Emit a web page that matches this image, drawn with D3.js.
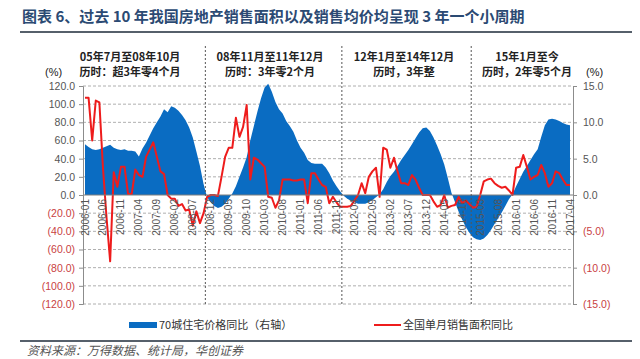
<!DOCTYPE html>
<html>
<head>
<meta charset="utf-8">
<script src="https://cdn.jsdelivr.net/npm/d3@7"></script>
<style>
  body { margin: 0; background: #fff; }
  text { font-family: "Liberation Sans", Arial, sans-serif; }
  .cn { font-family: "Noto Sans CJK SC", sans-serif; }
</style>
</head>
<body>
<script>
// month labels 2006-01 .. 2017-04
var months = [];
for (var yr = 2006; yr <= 2017; yr++) {
  for (var m = 1; m <= 12; m++) {
    if (yr == 2017 && m > 4) break;
    months.push(yr + "-" + (m < 10 ? "0" + m : m));
  }
}

// 70城住宅价格同比 (right axis, %)
var priceYoY = [
  7.0, 6.6, 6.3, 6.2, 6.3, 6.5, 6.7, 6.9, 6.5, 6.3, 6.2, 6.3,
  6.1, 6.1, 6.0, 5.3, 6.4, 7.2, 8.2, 9.2, 10.0, 10.8, 11.8, 11.4,
  12.2, 12.0, 11.6, 11.0, 10.3, 9.3, 7.9, 6.0, 4.0, 1.5, -0.3, -1.0,
  -1.5, -1.8, -1.6, -1.2, -0.5, 0.2, 1.2, 2.5, 3.8, 5.2, 7.5, 9.5,
  11.5, 13.3, 14.8, 15.3, 14.2, 12.8, 11.8, 11.2, 10.2, 9.5, 8.7, 7.5,
  6.5, 5.8, 4.8, 4.4, 4.3, 4.3, 4.3, 3.8, 3.0, 2.0, 1.2, 0.5,
  -0.1, -0.5, -0.8, -1.0, -1.2, -1.2, -1.2, -1.0, -0.7, -0.3, 0.1, 0.8,
  1.8, 2.6, 3.2, 4.0, 4.8, 5.5, 6.2, 7.0, 7.8, 8.6, 9.2, 9.3,
  8.8, 7.9, 6.8, 5.6, 4.2, 2.3, 0.3, -1.0, -2.3, -3.4, -4.4, -5.2,
  -5.8, -6.1, -6.2, -6.0, -5.5, -4.8, -4.0, -3.2, -2.4, -1.5, -0.6, 0.1,
  1.2, 2.2, 3.2, 4.0, 4.8, 5.6, 6.3, 8.0, 9.6, 10.4, 10.5, 10.4,
  10.2, 9.9, 9.7, 9.6
];

// 全国单月销售面积同比 (left axis, %)
var salesYoY = [
  107, 107, 60, 104, 102, 30, -25, -73, 25, 9, 31, 31,
  1, 1, 28, 22, 20, 42, 50, 58, 42, 26, 23, 0,
  -4, -4, -12, -10, -17, -16, -34, -18, -31, -20, -2, 0,
  0, -1, 20, 42, 52, 52, 85, 64, 75, 99, 17, 41,
  39, 35, 31, -2, -3, -14, -6, 17, 17, 17, 16, 16,
  17, 17, -9, 24, 24, 17, 11, 9, -9, -2, -8, -13,
  -13, -13, -12, -6, 0, 13, 2, 20, 26, 30, -2, 52,
  50, 30, 41, 26, 13, 13, 11, 22, 17, 8, 0, 0,
  0, -7, -13, -11, 0, -14, -12, -11, -2, -9, -6, -10,
  -14, -13, 0, 15, 17, 18, 13, 10, 8, 9, 5, 0,
  30, 31, 44, 31, 17, 20, 22, 33, 24, 9, 13, 26,
  24, 17, 11, 11
];

var leftTicks = [-120, -100, -80, -60, -40, -20, 0, 20, 40, 60, 80, 100, 120];
var rightTicks = [-15, -10, -5, 0, 5, 10, 15];
var periodBreaks = [33.5, 71.5, 107.5];
var periodLine1 = ["05年7月至08年10月", "08年11月至11年12月", "12年1月至14年12月", "15年1月至今"];
var periodLine2 = ["历时：超3年零4个月", "历时：3年零2个月", "历时，3年整", "历时，2年零5个月"];

(function() {
var W = 640, H = 359;
var plot = {left: 83, right: 573, top: 86, bottom: 304};

var svg = d3.select("body").append("svg")
    .attr("width", W)
    .attr("height", H);

var x = d3.scaleLinear().domain([0, months.length - 1]).range([85, 570]);
var yL = d3.scaleLinear().domain([-120, 120]).range([plot.bottom, plot.top]);
var yR = d3.scaleLinear().domain([-15, 15]).range([plot.bottom, plot.top]);

var fmt = function(v) {
  var s = Math.abs(v).toFixed(1);
  return v < 0 ? "(" + s + ")" : s;
};

// title
svg.append("text")
    .attr("class", "cn")
    .attr("x", 22).attr("y", 22)
    .style("font-size", "15px")
    .style("font-weight", "bold")
    .style("fill", "#2b4a73")
    .text("图表 6、过去 10 年我国房地产销售面积以及销售均价均呈现 3 年一个小周期");
svg.append("line")
    .attr("x1", 20).attr("x2", 632).attr("y1", 32).attr("y2", 32)
    .style("stroke", "#56606b").style("stroke-width", 2);

// grid
svg.append("g").selectAll("line")
    .data(leftTicks.filter(function(d) { return d != 0; }))
  .enter().append("line")
    .attr("x1", plot.left).attr("x2", plot.right)
    .attr("y1", function(d) { return yL(d); })
    .attr("y2", function(d) { return yL(d); })
    .style("stroke", "#9a9a9a")
    .style("stroke-dasharray", "3,2")
    .style("stroke-width", 0.8);

// blue area
var area = d3.area()
    .x(function(d, i) { return x(i); })
    .y0(yR(0))
    .y1(function(d) { return yR(d); });
svg.append("path")
    .datum(priceYoY)
    .attr("d", area)
    .style("fill", "#0a6cc2");

// red line
var line = d3.line()
    .x(function(d, i) { return x(i); })
    .y(function(d) { return yL(d); });
svg.append("path")
    .datum(salesYoY)
    .attr("d", line)
    .style("fill", "none")
    .style("stroke", "#ee1c1c")
    .style("stroke-width", 2)
    .style("stroke-linejoin", "round");

// zero axis
svg.append("line")
    .attr("x1", plot.left).attr("x2", plot.right)
    .attr("y1", yL(0)).attr("y2", yL(0))
    .style("stroke", "#7f7f7f").style("stroke-width", 1);

// period separators
svg.append("g").selectAll("line")
    .data(periodBreaks)
  .enter().append("line")
    .attr("x1", function(d) { return x(d); })
    .attr("x2", function(d) { return x(d); })
    .attr("y1", 46).attr("y2", plot.bottom)
    .style("stroke", "#555")
    .style("stroke-dasharray", "2,2")
    .style("stroke-width", 1);

// left axis
var yAxisL = d3.axisLeft(yL).tickValues(leftTicks).tickFormat(fmt).tickSize(4);
var gL = svg.append("g")
    .attr("transform", "translate(" + plot.left + ",0)")
    .call(yAxisL);
gL.select(".domain").style("stroke", "#8c8c8c");
gL.selectAll(".tick line").style("stroke", "#8c8c8c");
gL.selectAll(".tick text")
    .attr("x", -8)
    .style("font-size", "10.5px")
    .style("font-family", "'Liberation Sans', Arial, sans-serif")
    .style("fill", function(d) { return d < 0 ? "#c9413f" : "#555"; });

// right axis
var yAxisR = d3.axisRight(yR).tickValues(rightTicks).tickFormat(fmt).tickSize(4);
var gR = svg.append("g")
    .attr("transform", "translate(" + plot.right + ",0)")
    .call(yAxisR);
gR.select(".domain").style("stroke", "#8c8c8c");
gR.selectAll(".tick line").style("stroke", "#8c8c8c");
gR.selectAll(".tick text")
    .attr("x", 10)
    .style("font-size", "10.5px")
    .style("font-family", "'Liberation Sans', Arial, sans-serif")
    .style("fill", function(d) { return d < 0 ? "#c9413f" : "#555"; });

// x labels, every 5 months
var xTicks = d3.range(0, months.length, 5);
svg.append("g").selectAll("text")
    .data(xTicks)
  .enter().append("text")
    .attr("transform", function(d) { return "translate(" + (x(d) + 3.5) + "," + (yL(0) + 4) + ") rotate(-90)"; })
    .style("text-anchor", "end")
    .style("font-size", "10px")
    .style("fill", "#555")
    .text(function(d) { return months[d]; });

// unit labels
svg.append("text").attr("x", 45).attr("y", 76)
    .style("font-size", "11px").style("fill", "#222").text("(%)");
svg.append("text").attr("x", 586).attr("y", 76)
    .style("font-size", "11px").style("fill", "#222").text("(%)");

// period annotations
var centers = [130, 270, 404, 527];
svg.append("g").selectAll("text")
    .data(periodLine1)
  .enter().append("text")
    .attr("class", "cn")
    .attr("x", function(d, i) { return centers[i]; })
    .attr("y", 61)
    .style("text-anchor", "middle")
    .style("font-size", "11px")
    .style("font-weight", "bold")
    .style("fill", "#222")
    .text(function(d) { return d; });
svg.append("g").selectAll("text")
    .data(periodLine2)
  .enter().append("text")
    .attr("class", "cn")
    .attr("x", function(d, i) { return centers[i]; })
    .attr("y", 76)
    .style("text-anchor", "middle")
    .style("font-size", "11px")
    .style("font-weight", "bold")
    .style("fill", "#222")
    .text(function(d) { return d; });

// legend
svg.append("rect")
    .attr("x", 129).attr("y", 322).attr("width", 28).attr("height", 6)
    .style("fill", "#0a6cc2");
svg.append("text")
    .attr("class", "cn")
    .attr("x", 159).attr("y", 329)
    .style("font-size", "11px").style("fill", "#333")
    .text("70城住宅价格同比（右轴）");
svg.append("line")
    .attr("x1", 374).attr("x2", 401).attr("y1", 325).attr("y2", 325)
    .style("stroke", "#ee1c1c").style("stroke-width", 2);
svg.append("text")
    .attr("class", "cn")
    .attr("x", 403).attr("y", 329)
    .style("font-size", "11px").style("fill", "#333")
    .text("全国单月销售面积同比");

// footer
svg.append("line")
    .attr("x1", 20).attr("x2", 632).attr("y1", 341).attr("y2", 341)
    .style("stroke", "#56606b").style("stroke-width", 2);
svg.append("text")
    .attr("class", "cn")
    .attr("x", 27).attr("y", 355)
    .style("font-size", "12px")
    .style("font-style", "italic")
    .style("fill", "#555")
    .text("资料来源：万得数据、统计局，华创证券");
})();
</script>
</body>
</html>
